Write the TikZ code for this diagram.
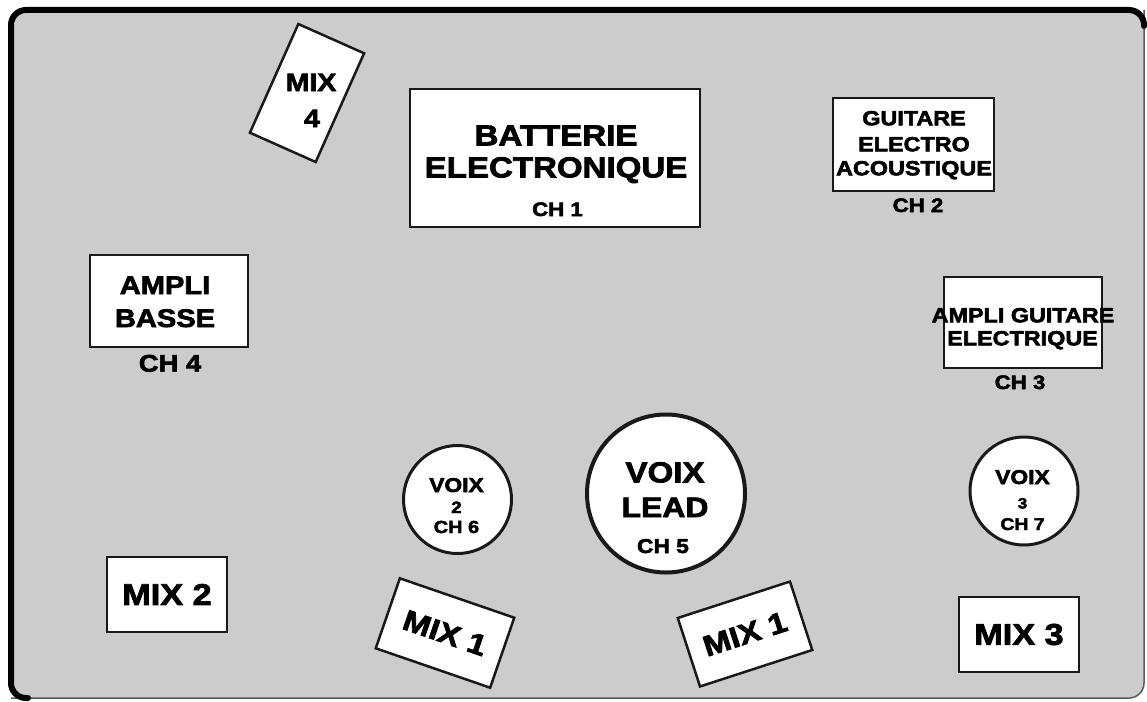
\documentclass[tikz,border=0pt]{standalone}
\usepackage{fontspec}
\newfontfamily\lab{Liberation Sans Bold}[FakeStretch=1.14, FakeBold=2.6]
\newcommand\fsz[1]{\lab\fontsize{#1}{#1}\selectfont}
\definecolor{bgc}{RGB}{204,204,204}
\definecolor{edge}{RGB}{25,25,25}
\tikzset{
  box/.style={draw=edge, line width=2.5pt, fill=white, inner sep=0pt, rectangle},
  disc/.style={draw=edge, line width=3pt, fill=white, inner sep=0pt, circle},
  txt/.style={anchor=base, inner sep=0pt, text=black},
}
\begin{document}
\begin{tikzpicture}[x=1pt,y=-1pt]
\useasboundingbox (0,0) rectangle (1147,701);
% frame
\fill[bgc, rounded corners=15pt] (11,10) rectangle (1144,698);
\draw[black!65, line width=1.5pt, rounded corners=15pt] (1144,10) -- (1144,698) -- (11,698);
\draw[black, line width=6pt, rounded corners=15pt, line cap=round] (28,698) -- (11,698) -- (11,10) -- (1144,10) -- (1144,26);

% boxes
\node[box, minimum width=290pt, minimum height=138pt] (batt) at (555,158) {};
\node[box, minimum width=161pt, minimum height=93pt] (guit) at (913.5,144.5) {};
\node[box, minimum width=158pt, minimum height=91pt] (agui) at (1023,322.5) {};
\node[box, minimum width=158pt, minimum height=92pt] (abas) at (169,301) {};
\node[box, minimum width=120pt, minimum height=75pt, font=\fsz{30}] (mixb) at (167,594.5) {MIX 2};
\node[box, minimum width=120pt, minimum height=75pt, font=\fsz{30}] (mixc) at (1019,634.5) {MIX 3};
\node[box, minimum width=72pt, minimum height=119pt, rotate=-24] (mixd) at (307,93) {};
\node[box, minimum width=121pt, minimum height=74pt, rotate=-19, font=\fsz{29}] (mixa) at (445,633) {MIX 1};
\node[box, minimum width=118pt, minimum height=72pt, rotate=18, font=\fsz{29}] (mixe) at (745,634) {MIX 1};

% circles
\node[disc, minimum size=108pt] (v2) at (457.5,499.5) {};
\node[disc, minimum size=108pt] (v3) at (1024,491) {};
\node[disc, line width=4pt, minimum size=158pt] (vl) at (666,493.5) {};

% texts
\node[txt, font=\fsz{25}] (m4a) at (311,91) {MIX};
\node[txt, font=\fsz{25}] (m4b) at (312,127) {4};

\node[txt, font=\fsz{29}] (ba1) at (556,145.4) {BATTERIE};
\node[txt, font=\fsz{29}] (ba2) at (556,177.4) {ELECTRONIQUE};
\node[txt, font=\fsz{19.5}] (ch1) at (557.5,216) {CH 1};

\node[txt, font=\fsz{20.5}] (gu1) at (914,125.3) {GUITARE};
\node[txt, font=\fsz{20.5}] (gu2) at (914,151.3) {ELECTRO};
\node[txt, font=\fsz{20.5}] (gu3) at (914,175.3) {ACOUSTIQUE};
\node[txt, font=\fsz{19.5}] (ch2) at (918,212) {CH 2};

\node[txt, font=\fsz{20.5}] (ag1) at (1023,322.3) {AMPLI GUITARE};
\node[txt, font=\fsz{20.5}] (ag2) at (1022.5,345.3) {ELECTRIQUE};
\node[txt, font=\fsz{19.5}] (ch3) at (1020,389) {CH 3};

\node[txt, font=\fsz{25.5}] (ab1) at (165,294) {AMPLI};
\node[txt, font=\fsz{25.5}] (ab2) at (165,327) {BASSE};
\node[txt, font=\fsz{24}] (ch4) at (170,371.6) {CH 4};

\node[txt, font=\fsz{20}] (v2a) at (456.5,492) {VOIX};
\node[txt, font=\fsz{16.5}] (v2b) at (456.5,513) {2};
\node[txt, font=\fsz{17.5}] (ch6) at (456.5,533) {CH 6};

\node[txt, font=\fsz{20}] (v3a) at (1022.5,484) {VOIX};
\node[txt, font=\fsz{15}] (v3b) at (1022.5,508.5) {3};
\node[txt, font=\fsz{17}] (ch7) at (1022.5,530) {CH 7};

\node[txt, font=\fsz{29}] (vla) at (665,482.4) {VOIX};
\node[txt, font=\fsz{28}] (vlb) at (665,517) {LEAD};
\node[txt, font=\fsz{20}] (ch5) at (663,553) {CH 5};
\end{tikzpicture}
\end{document}
